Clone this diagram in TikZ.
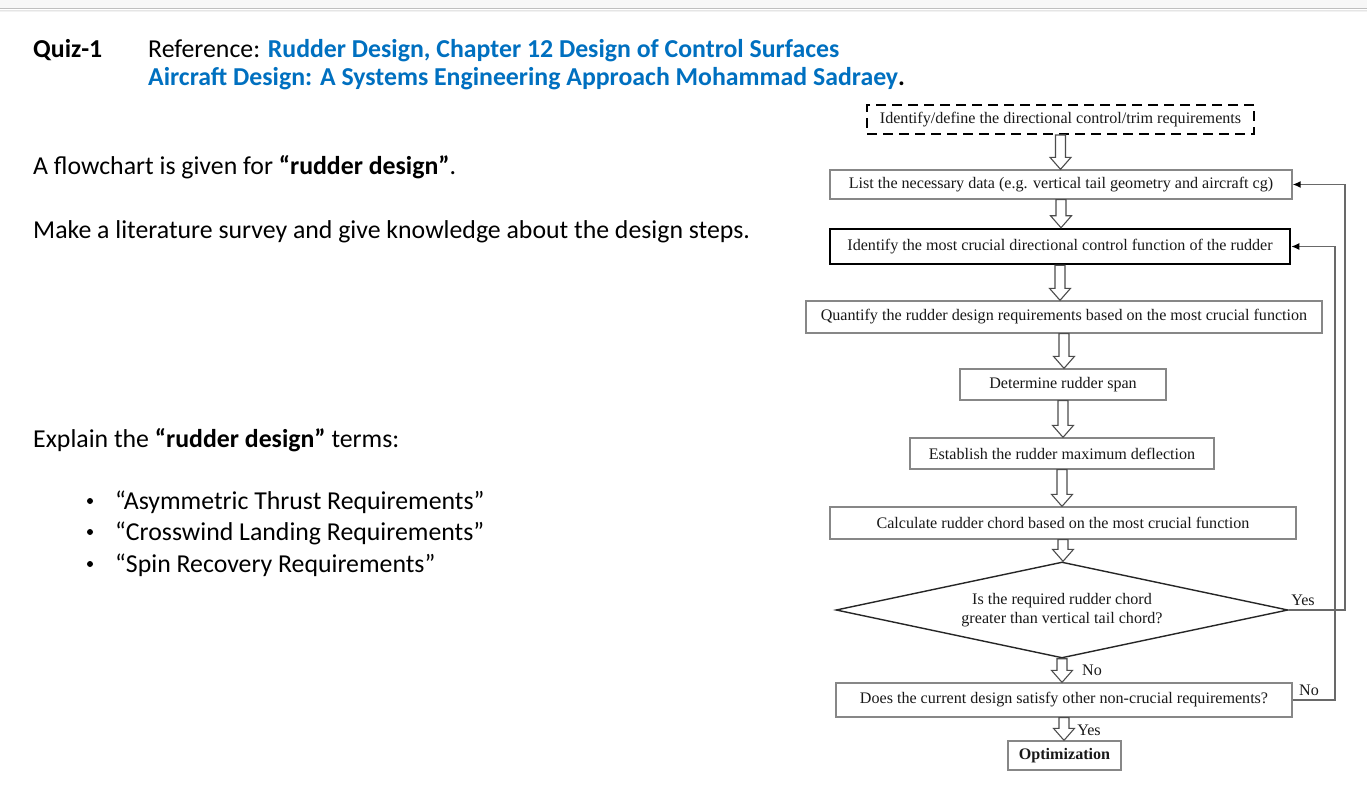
\documentclass[tikz,border=0pt]{standalone}
\usepackage{fontspec}
\setmainfont{Carlito}
\newfontfamily\tms{Liberation Serif}
\usetikzlibrary{shapes.geometric,arrows.meta,calc}
\definecolor{refblue}{RGB}{0,112,192}
\definecolor{boxgray}{RGB}{135,135,135}
\definecolor{linegray}{RGB}{105,105,105}
\begin{document}
\begin{tikzpicture}[x=1pt,y=-1pt,
  body/.style={anchor=base west, inner sep=0pt, font=\fontsize{25.8}{30}\selectfont},
  bul/.style={inner sep=0pt, circle, fill=black, minimum size=6pt},
  fc/.style={font=\tms\fontsize{16.1}{19}\selectfont, text=black!90},
  box/.style={fc, draw=boxgray, line width=1.3pt, rectangle, inner sep=0pt},
  harrow/.style={draw=black!70, line width=1.1pt, fill=white,
    to path={let \p1=(\tikztostart), \p2=(\tikztotarget) in
      (\x1-5pt,\y1) -- (\x1-5pt,\y2+12pt) -- (\x1-10.5pt,\y2+12pt) -- (\x1,\y2)
      -- (\x1+10.5pt,\y2+12pt) -- (\x1+5pt,\y2+12pt) -- (\x1+5pt,\y1) -- cycle}},
  conn/.style={draw=linegray, line width=1.4pt, -{Latex[length=8pt,width=7pt,color=black]}},
  lbl/.style={fc, inner sep=0pt}
]
\useasboundingbox (0,0) rectangle (1367,786);
\fill[white] (0,0) rectangle (1367,786);
% top bar
\fill[black!3] (0,0) rectangle (1367,9);
\draw[black!25, line width=1pt] (0,9) -- (1367,9);
\draw[black!10, line width=1pt] (0,10.5) -- (1367,10.5);
\draw[black!5, line width=1pt] (0,12) -- (1367,12);

% left text
\node[body, font=\bfseries\fontsize{25.8}{30}\selectfont] (quiz) at (33,57.5) {Quiz-1};
\node[body] (ref1) at (148,57.5) {Reference: \textcolor{refblue}{\textbf{Rudder Design, Chapter 12 Design of Control Surfaces}}};
\node[body] (ref2) at (148,86) {\textbf{\textcolor{refblue}{Aircraft Design: A Systems Engineering Approach Mohammad Sadraey}.}};
\node[body] (t1) at (33,174.5) {A flowchart is given for \textbf{“rudder design”}.};
\node[body] (t2) at (33,238.5) {Make a literature survey and give knowledge about the design steps.};
\node[body] (t3) at (33,447.5) {Explain the \textbf{“rudder design”} terms:};
\node[bul] (b1) at (90,501) {};
\node[bul] (b2) at (90,532) {};
\node[bul] (b3) at (90,564) {};
\node[body] (i1) at (115,509) {“Asymmetric Thrust Requirements”};
\node[body] (i2) at (115,540) {“Crosswind Landing Requirements”};
\node[body] (i3) at (115,572) {“Spin Recovery Requirements”};

% flowchart
\node[fc, draw=black, line width=2pt, dash pattern=on 10pt off 6pt, inner sep=0pt,
      minimum width=387pt, minimum height=29pt] (idef) at (1060.5,119.5)
      {Identify/define the directional control/trim requirements};
\node[box, minimum width=462pt, minimum height=29pt] (list) at (1061,184.5)
      {List the necessary data (e.g. vertical tail geometry and aircraft cg)};
\node[box, draw=black, line width=2.5pt, minimum width=460pt, minimum height=35pt] (ident) at (1060,246.5)
      {Identify the most crucial directional control function of the rudder};
\node[box, minimum width=516pt, minimum height=32pt] (quant) at (1064,317)
      {Quantify the rudder design requirements based on the most crucial function};
\node[box, minimum width=206pt, minimum height=31pt] (span) at (1063,384.5)
      {Determine rudder span};
\node[box, minimum width=304pt, minimum height=31pt] (defl) at (1062,453.5)
      {Establish the rudder maximum deflection};
\node[box, minimum width=466pt, minimum height=32pt] (chord) at (1063,523)
      {Calculate rudder chord based on the most crucial function};
\node[fc, draw=black!85, line width=1.4pt, shape=diamond, aspect=4.7, inner sep=0pt,
      minimum width=452pt, minimum height=96pt, align=center] (diam) at (1062,610)
      {Is the required rudder chord\\greater than vertical tail chord?};
\node[box, minimum width=456pt, minimum height=34pt] (sat) at (1064,700)
      {Does the current design satisfy other non-crucial requirements?};
\node[box, minimum width=113pt, minimum height=29pt, font=\tms\bfseries\fontsize{16.1}{19}\selectfont] (opt) at (1064.5,755.5)
      {Optimization};

% hollow arrows
\path[harrow] (idef.south) to (list.north);
\path[harrow] (list.south) to (ident.north);
\path[harrow] (ident.south) to (quant.north);
\path[harrow] (quant.south) to (span.north);
\path[harrow] (span.south) to (defl.north);
\path[harrow] (defl.south) to (chord.north);
\path[harrow] (chord.south) to (diam.north);
\path[harrow] (diam.south) to (sat.north);
\path[harrow] (sat.south) to (opt.north);

% loops
\coordinate (outer) at (1345,0);
\coordinate (inner) at (1335,0);
\draw[conn] (diam.east) -- (outer |- diam.east) -- (outer |- list.east) -- (list.east);
\draw[conn] (sat.east) -- (inner |- sat.east) -- (inner |- ident.east) -- (ident.east);

% labels
\node[lbl] (yes1) at (1303,600) {Yes};
\node[lbl] (no1) at (1092,670) {No};
\node[lbl] (no2) at (1309,690) {No};
\node[lbl] (yes2) at (1089,730) {Yes};
\end{tikzpicture}
\end{document}
